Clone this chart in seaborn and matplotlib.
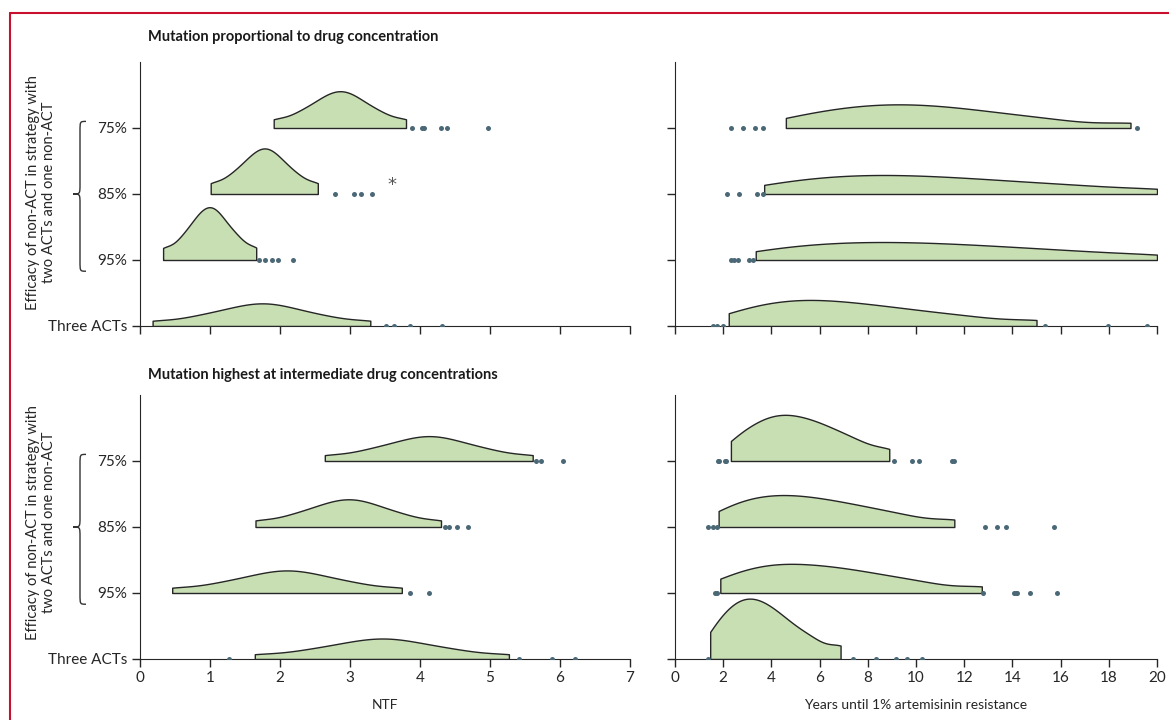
import numpy as np
import pandas as pd
import matplotlib.pyplot as plt
import seaborn as sns
from matplotlib.path import Path
from matplotlib.patches import PathPatch
from matplotlib.transforms import blended_transform_factory
from matplotlib.lines import Line2D

## Dados
grupos = ['75%', '85%', '95%', 'Three ACTs']

# Mutação proporcional - NTF (núcleo da distribuição)
prop_ntf_75 = [1.91, 2.21, 2.38, 2.51, 2.62, 2.70, 2.78, 2.86, 2.93, 3.01, 3.09, 3.20, 3.33, 3.50, 3.80]
prop_ntf_85 = [1.01, 1.25, 1.39, 1.50, 1.58, 1.65, 1.72, 1.78, 1.83, 1.90, 1.97, 2.05, 2.16, 2.30, 2.54]
prop_ntf_95 = [0.33, 0.55, 0.67, 0.76, 0.83, 0.89, 0.94, 1.00, 1.05, 1.10, 1.16, 1.24, 1.33, 1.45, 1.66]
prop_ntf_3 = [0.18, 0.68, 0.96, 1.17, 1.35, 1.49, 1.62, 1.74, 1.86, 1.98, 2.12, 2.30, 2.51, 2.80, 3.29]
# outliers
out_prop_ntf_75 = [3.88, 4.03, 4.06, 4.30, 4.38, 4.97]
out_prop_ntf_85 = [2.78, 3.06, 3.16, 3.31]
out_prop_ntf_95 = [1.70, 1.79, 1.88, 1.97, 2.19]
out_prop_ntf_3 = [3.52, 3.63, 3.85, 4.31]

# Mutação proporcional - anos até 1% de resistência
prop_anos_75 = [4.60, 5.84, 6.71, 7.46, 8.15, 8.82, 9.47, 10.13, 10.81, 11.54, 12.35, 13.27, 14.40, 15.93, 18.90]
prop_anos_85 = [3.70, 5.02, 6.02, 6.90, 7.74, 8.55, 9.37, 10.22, 11.11, 12.06, 13.11, 14.29, 15.71, 17.40, 20.00]
prop_anos_95 = [3.35, 4.70, 5.75, 6.68, 7.57, 8.44, 9.32, 10.21, 11.14, 12.13, 13.21, 14.41, 15.82, 17.54, 20.00]
prop_anos_3 = [2.23, 3.17, 3.88, 4.51, 5.10, 5.68, 6.28, 6.90, 7.57, 8.29, 9.09, 10.01, 11.12, 12.58, 15.00]
out_prop_anos_75 = [2.34, 2.81, 3.32, 3.65, 19.16]
out_prop_anos_85 = [2.14, 2.64, 3.39, 3.65]
out_prop_anos_95 = [2.34, 2.45, 2.60, 3.07, 3.23]
out_prop_anos_3 = [1.59, 1.74, 1.98, 15.35, 17.96, 19.60]

# Mutação máxima em concentração intermediária - NTF
inter_ntf_75 = [2.64, 3.11, 3.38, 3.58, 3.75, 3.89, 4.01, 4.13, 4.24, 4.36, 4.50, 4.67, 4.87, 5.14, 5.61]
inter_ntf_85 = [1.65, 2.07, 2.31, 2.49, 2.64, 2.76, 2.87, 2.98, 3.08, 3.19, 3.31, 3.46, 3.64, 3.88, 4.30]
inter_ntf_95 = [0.46, 0.98, 1.28, 1.50, 1.69, 1.84, 1.97, 2.10, 2.23, 2.36, 2.51, 2.70, 2.92, 3.22, 3.74]
inter_ntf_3 = [1.64, 2.22, 2.55, 2.80, 3.00, 3.17, 3.32, 3.46, 3.60, 3.74, 3.91, 4.12, 4.36, 4.69, 5.27]
out_inter_ntf_75 = [5.65, 5.73, 6.04]
out_inter_ntf_85 = [4.36, 4.41, 4.53, 4.68]
out_inter_ntf_95 = [3.86, 4.13]
out_inter_ntf_3 = [1.27, 5.41, 5.89, 6.22]

# Mutação máxima em concentração intermediária - anos
inter_anos_75 = [2.32, 2.91, 3.35, 3.71, 4.06, 4.38, 4.70, 5.03, 5.38, 5.74, 6.13, 6.58, 7.10, 7.78, 8.89]
inter_anos_85 = [1.81, 2.52, 3.07, 3.57, 4.04, 4.51, 4.98, 5.46, 5.98, 6.52, 7.13, 7.81, 8.62, 9.70, 11.59]
inter_anos_95 = [1.88, 2.67, 3.31, 3.83, 4.34, 4.85, 5.37, 5.91, 6.47, 7.06, 7.71, 8.46, 9.35, 10.54, 12.73]
inter_anos_3 = [1.46, 1.89, 2.22, 2.49, 2.75, 2.99, 3.24, 3.49, 3.75, 4.03, 4.35, 4.71, 5.18, 5.80, 6.87]
out_inter_anos_75 = [1.78, 1.82, 2.09, 2.13, 9.10, 9.83, 10.14, 11.51, 11.59]
out_inter_anos_85 = [1.39, 1.59, 1.73, 12.87, 13.38, 13.74, 15.72]
out_inter_anos_95 = [1.65, 1.74, 12.79, 14.05, 14.13, 14.19, 14.73, 15.84]
out_inter_anos_3 = [1.36, 7.38, 8.33, 9.17, 9.61, 10.26]

ticks_ntf = [0, 1, 2, 3, 4, 5, 6, 7]
ticks_anos = [0, 2, 4, 6, 8, 10, 12, 14, 16, 18, 20]

verde = '#c8dfb4'
ponto = '#4b6876'
escuro = '#262626'

## Estilo
sns.set_style('ticks')
plt.rcParams['font.family'] = ['Lato', 'DejaVu Sans']
plt.rcParams['axes.edgecolor'] = escuro
plt.rcParams['xtick.color'] = escuro
plt.rcParams['ytick.color'] = escuro


def painel(ax, dists, outs, largura, xmax, xticks):
    df = pd.DataFrame({'valor': np.concatenate(dists),
                       'grupo': np.repeat(grupos, [len(d) for d in dists])})
    df['lado'] = 'cima'
    od = pd.DataFrame({'valor': np.concatenate(outs),
                       'grupo': np.repeat(grupos, [len(o) for o in outs])})
    # meio violino: hue com um segundo nível vazio
    sns.violinplot(data=df, x='valor', y='grupo', order=grupos, hue='lado',
                   hue_order=['cima', 'baixo'], split=True, dodge=True, inner=None,
                   cut=0, density_norm='area', width=largura, bw_adjust=0.6,
                   palette=[verde, verde], saturation=1, linecolor=escuro,
                   linewidth=1, legend=False, ax=ax)
    sns.stripplot(data=od, x='valor', y='grupo', order=grupos, jitter=False,
                  color=ponto, size=3.6, linewidth=0, ax=ax, zorder=3)
    ax.set_xlim(0, xmax)
    ax.set_ylim(3, -1)
    ax.set_xticks(xticks)
    ax.set_yticks(range(4))
    ax.set_yticklabels(grupos)
    ax.set_ylabel('')
    ax.set_xlabel('')
    sns.despine(ax=ax)
    ax.tick_params(length=6, width=1, labelsize=11, pad=3)


def chave(ax, fig):
    tr = blended_transform_factory(fig.transFigure, ax.transData)
    xe, xm, xt = 86 / 1169, 80 / 1169, 73 / 1169
    yt, yc, yb, d = -0.1, 1.0, 2.17, 0.15
    verts = [(xe, yt), (xm, yt), (xm, yt), (xm, yt + d),
             (xm, yc - d),
             (xm, yc), (xm, yc), (xt, yc),
             (xm, yc), (xm, yc), (xm, yc + d),
             (xm, yb - d),
             (xm, yb), (xm, yb), (xe, yb)]
    codes = [Path.MOVETO, Path.CURVE4, Path.CURVE4, Path.CURVE4,
             Path.LINETO,
             Path.CURVE4, Path.CURVE4, Path.CURVE4,
             Path.CURVE4, Path.CURVE4, Path.CURVE4,
             Path.LINETO,
             Path.CURVE4, Path.CURVE4, Path.CURVE4]
    ax.add_patch(PathPatch(Path(verts, codes), fill=False, lw=1, edgecolor='#333333',
                           transform=tr, clip_on=False))


fig = plt.figure(figsize=(11.69, 7.2), dpi=100)
W, H = 1169, 720
ax_tl = fig.add_axes([140 / W, 1 - 326 / H, 490 / W, 264 / H])
ax_tr = fig.add_axes([675 / W, 1 - 326 / H, 482 / W, 264 / H])
ax_bl = fig.add_axes([140 / W, 1 - 659 / H, 490 / W, 264 / H])
ax_br = fig.add_axes([675 / W, 1 - 659 / H, 482 / W, 264 / H])

painel(ax_tl, [prop_ntf_75, prop_ntf_85, prop_ntf_95, prop_ntf_3],
       [out_prop_ntf_75, out_prop_ntf_85, out_prop_ntf_95, out_prop_ntf_3], 1.6, 7, ticks_ntf)
painel(ax_tr, [prop_anos_75, prop_anos_85, prop_anos_95, prop_anos_3],
       [out_prop_anos_75, out_prop_anos_85, out_prop_anos_95, out_prop_anos_3], 0.79, 20, ticks_anos)
painel(ax_bl, [inter_ntf_75, inter_ntf_85, inter_ntf_95, inter_ntf_3],
       [out_inter_ntf_75, out_inter_ntf_85, out_inter_ntf_95, out_inter_ntf_3], 0.84, 7, ticks_ntf)
painel(ax_br, [inter_anos_75, inter_anos_85, inter_anos_95, inter_anos_3],
       [out_inter_anos_75, out_inter_anos_85, out_inter_anos_95, out_inter_anos_3], 1.83, 20, ticks_anos)

for ax in (ax_tl, ax_tr):
    ax.tick_params(labelbottom=False)
for ax in (ax_tr, ax_br):
    ax.tick_params(labelleft=False)

# asterisco ao lado dos outliers de 85%
ax_tl.text(3.6, 0.86, '*', ha='center', va='center', fontsize=13,
           color='#555555', family='DejaVu Sans')

ax_bl.set_xlabel('NTF', fontsize=10, labelpad=10, color=escuro)
ax_br.set_xlabel('Years until 1% artemisinin resistance', fontsize=10, labelpad=10, color=escuro)

# títulos dos blocos
fig.text(148 / W, 1 - 37 / H, 'Mutation proportional to drug concentration',
         fontsize=10.5, fontweight='bold', va='center', color='#1a1a1a')
fig.text(148 / W, 1 - 375 / H, 'Mutation highest at intermediate drug concentrations',
         fontsize=10.5, fontweight='bold', va='center', color='#1a1a1a')

rotulo = 'Efficacy of non-ACT in strategy with\ntwo ACTs and one non-ACT'
for yc in (192.5, 522.5):
    fig.text(41 / W, 1 - yc / H, rotulo, rotation=90, ha='center', va='center',
             multialignment='center', fontsize=10.5, linespacing=1.15, color=escuro)

chave(ax_tl, fig)
chave(ax_bl, fig)

# moldura vermelha
xf, yf = 9.5 / W, 1 - 12.5 / H
fig.add_artist(Line2D([xf, xf], [0, yf], color='#c8102e', lw=1.5, transform=fig.transFigure))
fig.add_artist(Line2D([xf, 1], [yf, yf], color='#c8102e', lw=1.5, transform=fig.transFigure))

fig.savefig('out.png', dpi=100)
